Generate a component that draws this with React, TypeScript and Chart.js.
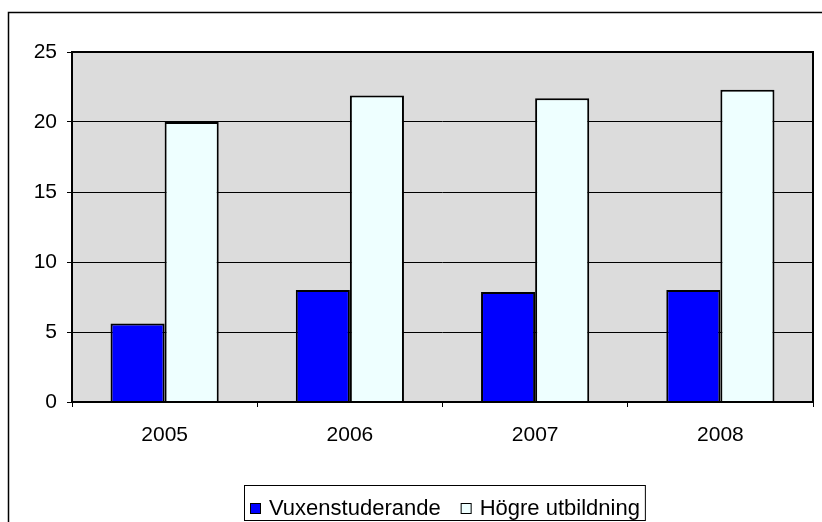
import React, { useEffect, useRef } from "react";
import { Chart, registerables } from "chart.js";

Chart.register(...registerables);

const categories = ["2005", "2006", "2007", "2008"];
const seriesNames = ["Vuxenstuderande", "Högre utbildning"];
const vuxenstuderande = [5.6, 8.0, 7.85, 8.0];
const hogreUtbildning = [20.0, 21.9, 21.7, 22.3];
const yMin = 0;
const yMax = 25;
const yStep = 5;

const FONT = '"Liberation Sans", Arial, sans-serif';

const frame = {
  id: "frame",
  beforeDraw(chart: any) {
    const { ctx, chartArea: a } = chart;
    ctx.save();
    ctx.fillStyle = "#ffffff";
    ctx.fillRect(0, 0, chart.width, chart.height);
    ctx.strokeStyle = "#000000";
    ctx.lineWidth = 1.5;
    ctx.strokeRect(8.5, 12.5, 900, 600);
    ctx.fillStyle = "#DCDCDC";
    ctx.fillRect(a.left, a.top, a.right - a.left, a.bottom - a.top);
    ctx.restore();
  },
  afterDatasetsDraw(chart: any) {
    const { ctx, chartArea: a } = chart;
    ctx.save();
    ctx.strokeStyle = "#000000";
    ctx.lineWidth = 2;
    ctx.strokeRect(a.left, a.top, a.right - a.left, a.bottom - a.top);
    ctx.restore();
  },
  afterDraw(chart: any) {
    const { ctx } = chart;
    const ds = chart.data.datasets;
    ctx.save();
    ctx.font = "22px " + FONT;
    ctx.textBaseline = "middle";
    ctx.textAlign = "left";
    const box = 11;
    const gapText = 8;
    const itemGap = 20;
    const widths = ds.map((d: any) => ctx.measureText(d.label).width);
    let total = 0;
    widths.forEach((w: number, i: number) => {
      total += box + gapText + w + (i > 0 ? itemGap : 0);
    });
    const cx = 445;
    let x = Math.round(cx - total / 2);
    const midY = 508;
    ctx.strokeStyle = "#000000";
    ctx.lineWidth = 1;
    ctx.strokeRect(x - 5.5, 485.5, total + 11, 35);
    ds.forEach((d: any, i: number) => {
      ctx.fillStyle = d.backgroundColor;
      ctx.fillRect(x, midY - 5, box, box);
      ctx.strokeRect(x + 0.5, midY - 4.5, box - 1, box - 1);
      ctx.fillStyle = "#000000";
      ctx.fillText(d.label, x + box + gapText, midY + 1);
      x += box + gapText + widths[i] + itemGap;
    });
    ctx.restore();
  },
};

export default function App() {
  const ref = useRef<HTMLCanvasElement | null>(null);
  useEffect(() => {
    if (!ref.current) return;
    const chart = new Chart(ref.current, {
      type: "bar",
      data: {
        labels: categories,
        datasets: [
          {
            label: seriesNames[0],
            data: vuxenstuderande,
            backgroundColor: "#0000FF",
            borderColor: "#000000",
            borderWidth: 2,
            barPercentage: 1,
            categoryPercentage: 0.584,
          },
          {
            label: seriesNames[1],
            data: hogreUtbildning,
            backgroundColor: "#EEFFFF",
            borderColor: "#000000",
            borderWidth: 2,
            barPercentage: 1,
            categoryPercentage: 0.584,
          },
        ],
      },
      options: {
        responsive: false,
        animation: false,
        devicePixelRatio: 1,
        layout: { padding: { left: 20, top: 52, right: 9, bottom: 60 } },
        plugins: {
          legend: { display: false },
          tooltip: { enabled: false },
        },
        scales: {
          x: {
            afterFit: (s: any) => {
              s.height = 60;
            },
            border: { display: false },
            grid: {
              offset: true,
              drawOnChartArea: false,
              drawTicks: true,
              tickLength: 5,
              color: "#000000",
              lineWidth: 1,
            },
            ticks: {
              color: "#000000",
              font: { family: FONT, size: 21 },
              padding: 16,
              maxRotation: 0,
            },
          },
          y: {
            min: yMin,
            max: yMax,
            afterFit: (s: any) => {
              s.width = 52;
            },
            border: { display: false },
            grid: {
              drawTicks: true,
              tickLength: 5,
              color: "#000000",
              lineWidth: 1,
            },
            ticks: {
              stepSize: yStep,
              color: "#000000",
              font: { family: FONT, size: 21 },
              padding: 10,
            },
          },
        },
      },
      plugins: [frame],
    });
    return () => chart.destroy();
  }, []);
  return (
    <canvas
      ref={ref}
      width={822}
      height={522}
      style={{ position: "fixed", left: 0, top: 0, width: 822, height: 522 }}
    />
  );
}
